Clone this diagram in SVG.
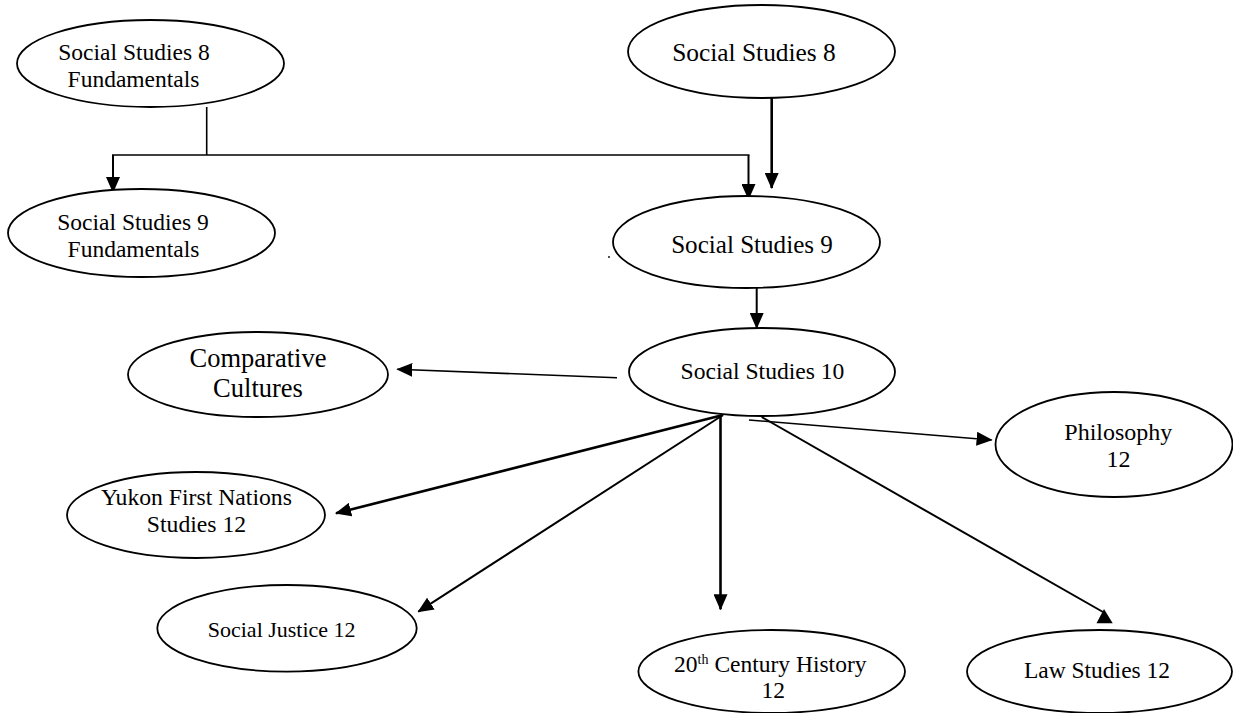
<svg xmlns="http://www.w3.org/2000/svg" width="1233" height="713" viewBox="0 0 1233 713">
<style>
.node ellipse{fill:#fff;stroke:#000;stroke-width:1.8}
.node text{font-family:"Liberation Serif","Times New Roman",serif;font-size:23.5px;fill:#000;text-anchor:middle}
.conn line,.conn polyline{stroke:#000;fill:none;stroke-width:2}
.conn .thin{stroke-width:1.6}
.conn .bold{stroke-width:2.6}
</style>
<defs>
<marker id="ah" markerUnits="userSpaceOnUse" markerWidth="16" markerHeight="14" refX="15" refY="7" orient="auto" viewBox="0 0 16 14">
<path d="M0,0 L16,7 L0,14 z" fill="#000"/>
</marker>
</defs>
<rect width="1233" height="713" fill="#fff"/>
<g id="connectors" class="conn">
<polyline class="thin" points="206.7,107 206.7,155"/>
<line class="thin" x1="112" y1="155" x2="749.5" y2="155"/>
<line x1="113" y1="155" x2="113" y2="192" marker-end="url(#ah)"/>
<line x1="748.5" y1="155" x2="748.5" y2="199" marker-end="url(#ah)"/>
<line class="bold" x1="771.7" y1="98" x2="771.7" y2="188" marker-end="url(#ah)"/>
<line x1="756.7" y1="288" x2="756.7" y2="328" marker-end="url(#ah)"/>
<line class="thin" x1="617" y1="377.7" x2="397.3" y2="369.3" marker-end="url(#ah)"/>
<line class="bold" x1="723" y1="415" x2="336" y2="513.3" marker-end="url(#ah)"/>
<line x1="723" y1="415" x2="418.3" y2="611.7" marker-end="url(#ah)"/>
<line class="bold" x1="720.5" y1="415" x2="720.5" y2="609.3" marker-end="url(#ah)"/>
<line class="thin" x1="749" y1="420" x2="991.6" y2="440" marker-end="url(#ah)"/>
<line x1="761.7" y1="417" x2="1103" y2="612"/>
<polygon points="1104,609 1096.5,623.3 1112.7,623.3" fill="#000"/>
</g>
<g id="ss8f" class="node">
<ellipse cx="150.5" cy="63.5" rx="133.5" ry="43.5"/>
<text x="134" y="60">Social Studies 8</text>
<text x="133.5" y="87">Fundamentals</text>
</g>
<g id="ss9f" class="node">
<ellipse cx="141.5" cy="233" rx="133.5" ry="44"/>
<text x="133" y="230">Social Studies 9</text>
<text x="133.5" y="257">Fundamentals</text>
</g>
<g id="ss8" class="node">
<ellipse cx="761.5" cy="51.5" rx="133.5" ry="46.5"/>
<text x="754" y="61" style="font-size:25.4px">Social Studies 8</text>
</g>
<g id="ss9" class="node">
<ellipse cx="746.5" cy="242" rx="133.5" ry="46"/>
<text x="752" y="253" style="font-size:25.1px">Social Studies 9</text>
</g>
<circle cx="609" cy="257" r="0.9" fill="#000"/>
<g id="ss10" class="node">
<ellipse cx="762" cy="372" rx="133" ry="44"/>
<text x="762.5" y="379" style="font-size:23.6px">Social Studies 10</text>
</g>
<g id="cc" class="node">
<ellipse cx="258" cy="374.5" rx="130" ry="42.5"/>
<text x="258" y="366.7" style="font-size:26.5px">Comparative</text>
<text x="258" y="396.7" style="font-size:26.5px">Cultures</text>
</g>
<g id="yfn" class="node">
<ellipse cx="196" cy="515" rx="129" ry="43"/>
<text x="196.5" y="505" style="font-size:23.7px">Yukon First Nations</text>
<text x="196.5" y="532" style="font-size:23.7px">Studies 12</text>
</g>
<g id="sj" class="node">
<ellipse cx="287" cy="628.3" rx="129.7" ry="43.3"/>
<text x="281.7" y="636.7" style="font-size:22px">Social Justice 12</text>
</g>
<g id="hist" class="node">
<ellipse cx="771.7" cy="671.5" rx="133.3" ry="41.5"/>
<text x="770.3" y="671.7">20<tspan style="font-size:14px" dy="-8">th</tspan><tspan dy="8"> Century History</tspan></text>
<text x="773.3" y="698.3">12</text>
</g>
<g id="law" class="node">
<ellipse cx="1099.5" cy="671.5" rx="132.5" ry="41.5"/>
<text x="1097" y="677.7">Law Studies 12</text>
</g>
<g id="phil" class="node">
<ellipse cx="1114" cy="444.5" rx="118.5" ry="52.5"/>
<text x="1118.3" y="440" style="font-size:24px">Philosophy</text>
<text x="1118.5" y="467" style="font-size:24px">12</text>
</g>
</svg>
